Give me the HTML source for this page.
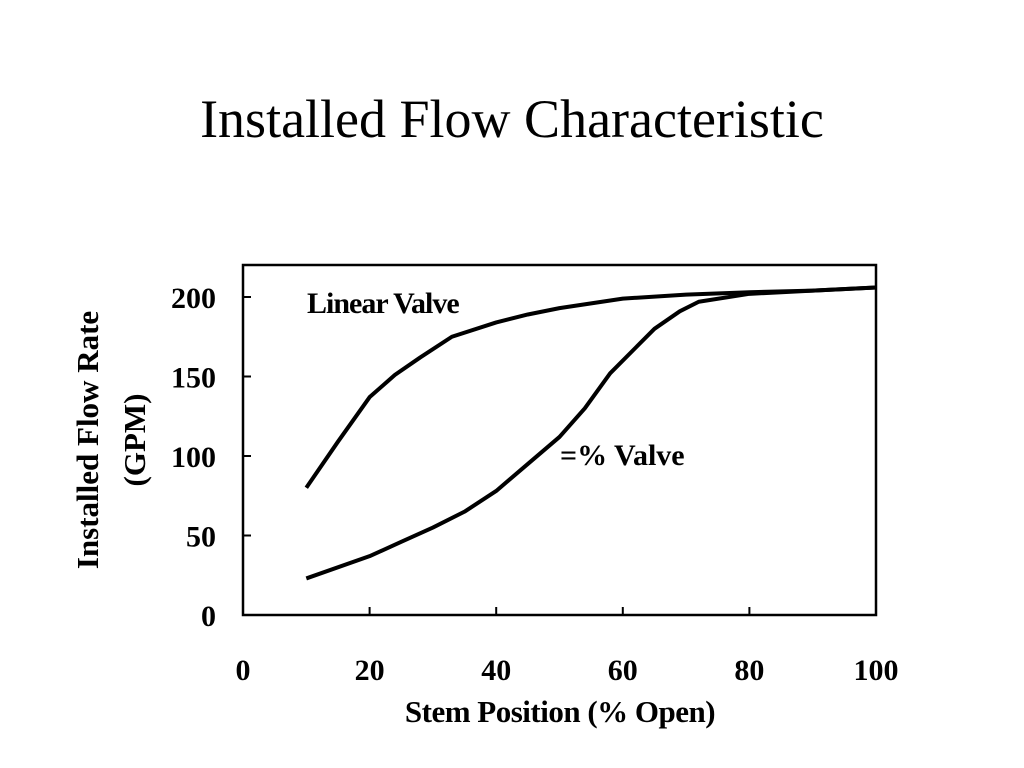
<!DOCTYPE html>
<html><head><meta charset="utf-8"><style>
html,body{margin:0;padding:0;background:#fff;width:1024px;height:768px;overflow:hidden}
svg text{font-family:"Liberation Serif",serif}
</style></head><body>
<svg width="1024" height="768">
<text x="512" y="137" text-anchor="middle" font-size="54">Installed Flow Characteristic</text>
<g id="axes"></g>
<g id="series"></g>
<text x="307" y="313" font-size="30" font-weight="bold" letter-spacing="-1">Linear Valve</text>
<text x="560" y="465" font-size="30" font-weight="bold">=%  Valve</text>
<text x="560" y="722" text-anchor="middle" font-size="31" font-weight="bold" letter-spacing="-0.5">Stem Position (%  Open)</text>
<g transform="translate(98,440) rotate(-90)">
<text x="0" y="0" text-anchor="middle" font-size="31" font-weight="bold">Installed Flow Rate</text>
<text x="0" y="47" text-anchor="middle" font-size="31" font-weight="bold">(GPM)</text>
</g>
</svg>
<script>
const xTicks=[0,20,40,60,80,100];
const yTicks=[0,50,100,150,200];
const linearX=[10,15,20,24,28,33,40,45,50,60,70,80,90,100];
const linearY=[80,109,137,151,162,175,184,189,193,199,201.5,203,204,206];
const eqX=[10,20,25,30,35,40,45,50,54,58,62,65,69,72,80,90,100];
const eqY=[23,37,46,55,65,78,95,112,130,152,168,180,191,197,202,204,206];
const X0=243,X1=876,Y0=615,Ytop=265;
const sx=v=>X0+(X1-X0)*v/100;
const sy=v=>Y0-(Y0-297)*v/200;
const NS="http://www.w3.org/2000/svg";
const axes=document.getElementById('axes');
function mk(tag,attrs,parent){const e=document.createElementNS(NS,tag);for(const k in attrs)e.setAttribute(k,attrs[k]);parent.appendChild(e);return e;}
const frame=mk('rect',{x:X0,y:Ytop,width:X1-X0,height:Y0-Ytop,fill:'none',stroke:'#000','stroke-width':2.5},axes);


xTicks.forEach(t=>{
 const l=mk('line',{x1:sx(t),x2:sx(t),y1:Y0,y2:Y0-8,stroke:'#000','stroke-width':2},axes);
 
 
 const tx=mk('text',{x:sx(t),y:680,'text-anchor':'middle','font-size':30,'font-weight':'bold'},axes);
 tx.textContent=t;
 
 
});
yTicks.forEach(t=>{
 const l=mk('line',{x1:X0,x2:X0+8,y1:sy(t),y2:sy(t),stroke:'#000','stroke-width':2},axes);
 
 
 const tx=mk('text',{x:216,y:sy(t)+11,'text-anchor':'end','font-size':30,'font-weight':'bold'},axes);
 tx.textContent=t;
 
 
});
const ser=document.getElementById('series');
function line(xs,ys,name){
 const p=mk('polyline',{points:xs.map((x,i)=>sx(x)+','+sy(ys[i])).join(' '),fill:'none',stroke:'#000','stroke-width':4,'stroke-linejoin':'round'},ser);
 
 
}
line(linearX,linearY,'linear-valve-curve');
line(eqX,eqY,'equal-percent-valve-curve');
</script>
</body></html>
